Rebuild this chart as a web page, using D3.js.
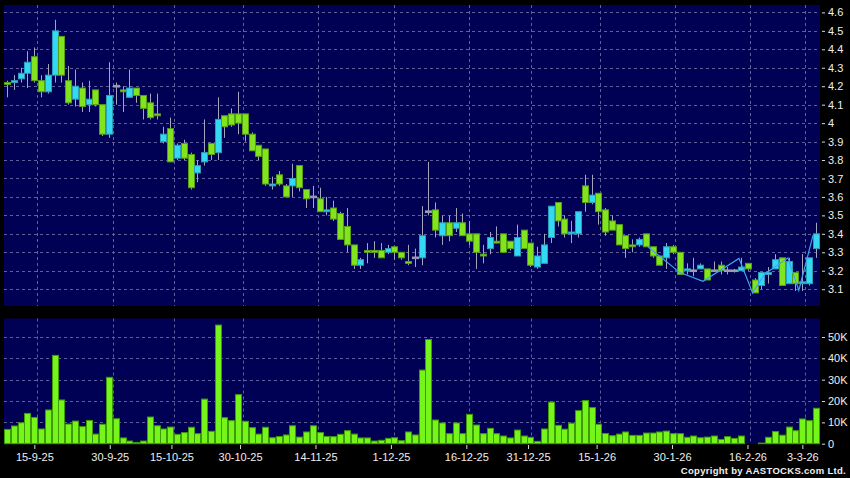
<!doctype html>
<html>
<head>
<meta charset="utf-8">
<script src="https://cdn.jsdelivr.net/npm/d3@7"></script>
<style>
  body { margin: 0; background: #000; }
  svg text { font-family: "Liberation Sans", Arial, sans-serif; }
</style>
</head>
<body>
<svg width="850" height="478"></svg>
<script>
// daily OHLC, oldest first
var opens  = [4.22,4.22,4.24,4.27,4.36,4.23,4.17,4.26,4.47,4.23, 4.13,4.19,4.10,4.18,4.10,3.94,4.20,4.18,4.14,4.19,
              4.15,4.11,4.05,3.90,3.97,3.81,3.89,3.83,3.73,3.79, 3.89,3.84,4.04,4.05,4.05,4.05,3.94,3.88,3.86,3.66,
              3.72,3.66,3.66,3.77,3.64,3.60,3.59,3.52,3.54,3.51, 3.44,3.34,3.23,3.31,3.31,3.31,3.30,3.33,3.30,3.25,
              3.27,3.27,3.52,3.53,3.39,3.46,3.43,3.46,3.40,3.40, 3.29,3.32,3.36,3.40,3.36,3.28,3.42,3.35,3.22,3.24,
              3.38,3.57,3.48,3.40,3.40,3.66,3.57,3.62,3.53,3.47, 3.45,3.39,3.34,3.34,3.40,3.33,3.28,3.27,3.33,3.30,
              3.20,3.20,3.21,3.21,3.20,3.23,3.20,3.20,3.20,3.24, 3.15,3.12,3.18,3.21,3.27,3.13,3.19,3.13,3.13,3.32];
var highs  = [4.23,4.26,4.30,4.39,4.41,4.26,4.32,4.56,4.47,4.31, 4.29,4.22,4.23,4.18,4.10,4.33,4.22,4.20,4.29,4.19,
              4.15,4.16,4.16,3.98,4.03,3.89,3.91,3.84,3.80,4.02, 3.89,4.14,4.04,4.08,4.17,4.05,3.95,3.88,3.86,3.71,
              3.74,3.67,3.78,3.77,3.64,3.66,3.65,3.60,3.58,3.52, 3.54,3.34,3.27,3.35,3.36,3.35,3.34,3.33,3.30,3.34,
              3.32,3.55,3.79,3.57,3.50,3.50,3.54,3.51,3.47,3.40, 3.34,3.41,3.44,3.40,3.36,3.45,3.42,3.35,3.33,3.40,
              3.55,3.57,3.50,3.47,3.52,3.72,3.72,3.62,3.54,3.50, 3.45,3.39,3.37,3.38,3.40,3.33,3.28,3.35,3.34,3.30,
              3.24,3.27,3.24,3.21,3.25,3.25,3.22,3.21,3.27,3.24, 3.16,3.19,3.22,3.29,3.27,3.27,3.19,3.29,3.27,3.46];
var lows   = [4.14,4.18,4.22,4.19,4.22,4.14,4.16,4.22,4.22,4.10, 4.09,4.06,4.06,4.09,3.93,3.92,4.10,4.06,4.14,4.11,
              4.02,4.02,4.02,3.89,3.79,3.80,3.80,3.64,3.68,3.77, 3.80,3.80,3.92,3.98,3.94,3.90,3.85,3.80,3.66,3.64,
              3.66,3.60,3.60,3.63,3.54,3.54,3.52,3.50,3.47,3.37, 3.30,3.21,3.21,3.24,3.27,3.27,3.29,3.26,3.26,3.23,
              3.22,3.23,3.50,3.38,3.34,3.36,3.41,3.39,3.34,3.21, 3.24,3.29,3.35,3.30,3.31,3.28,3.32,3.22,3.21,3.24,
              3.35,3.44,3.38,3.35,3.38,3.52,3.56,3.45,3.39,3.42, 3.34,3.27,3.30,3.33,3.33,3.27,3.23,3.21,3.29,3.18,
              3.18,3.17,3.21,3.15,3.20,3.18,3.18,3.19,3.20,3.20, 3.08,3.10,3.13,3.21,3.12,3.13,3.09,3.09,3.12,3.27];
var closes = [4.21,4.23,4.27,4.33,4.23,4.17,4.26,4.50,4.26,4.11, 4.20,4.09,4.13,4.10,3.94,4.15,4.20,4.17,4.19,4.15,
              4.08,4.03,4.04,3.94,3.79,3.88,3.81,3.65,3.77,3.84, 3.83,4.02,3.98,3.99,4.00,3.94,3.85,3.82,3.67,3.67,
              3.67,3.60,3.70,3.65,3.59,3.60,3.52,3.53,3.48,3.37, 3.34,3.23,3.26,3.30,3.30,3.27,3.32,3.30,3.27,3.24,
              3.27,3.39,3.52,3.42,3.46,3.39,3.46,3.39,3.36,3.30, 3.28,3.38,3.35,3.30,3.32,3.38,3.32,3.23,3.28,3.34,
              3.55,3.47,3.40,3.41,3.52,3.57,3.61,3.52,3.41,3.42, 3.34,3.32,3.33,3.37,3.33,3.28,3.23,3.33,3.30,3.18,
              3.21,3.20,3.23,3.15,3.20,3.20,3.20,3.20,3.22,3.21, 3.08,3.19,3.19,3.26,3.12,3.25,3.13,3.14,3.27,3.40];
// volume in thousands of shares
var volumes = [6.7,8.3,9.8,14.2,12.3,6.9,15.8,41.4,20.5,9.2, 10.6,8.0,10.9,4.5,9.1,31.1,11.7,2.7,1.25,0.6,
               1.25,12.5,8.4,6.9,7.8,4.4,5.2,7.7,4.7,20.9, 5.8,55.6,12.2,10.8,23.0,10.5,7.5,4.5,7.7,2.8,
               3.4,4.1,8.4,3.1,5.5,8.4,5.2,3.4,3.3,4.4, 6.1,4.5,2.7,2.7,1.25,1.6,2.5,2.8,1.4,5.5,
               4.1,34.5,48.8,11.1,9.7,4.7,9.7,4.7,13.75,8.75, 4.7,7.2,4.7,3.6,2.7,6.4,3.6,3.0,1.1,6.9,
               19.5,8.6,6.8,9.6,15.5,20.2,16.9,9.1,4.8,3.75, 4.5,5.5,3.9,3.9,5.0,5.0,5.5,5.9,4.7,4.7,
               3.0,3.6,2.8,3.1,3.6,2.0,3.3,2.5,3.6,0, 0,0.3,3.0,5.7,4.0,7.8,6.1,11.6,10.8,16.6];
var priceTicks = [3.1,3.2,3.3,3.4,3.5,3.6,3.7,3.8,3.9,4.0,4.1,4.2,4.3,4.4,4.5,4.6];
var volTicks = [0,10,20,30,40,50];
var tickIdx = [4,15,24,34,45,56,67,76,86,97,108,116];
var tickLabels = ["15-9-25","30-9-25","15-10-25","30-10-25","14-11-25","1-12-25",
                  "16-12-25","31-12-25","15-1-26","30-1-26","16-2-26","3-3-26"];
// thin overlay line in the last weeks
var lineIdx   = [94.3,99.0,102.4,107.7,109.7,111.5,114.9,116.5,118.6];
var linePrice = [3.33,3.19,3.143,3.267,3.08,3.183,3.27,3.093,3.393];

var svg = d3.select("svg");
var L = 4, R = 820, top1 = 5, bot1 = 306, top2 = 318.5, bot2 = 444;
var n = closes.length;
var navy = "#000055", gridC = "#5f5f99";

var x  = d3.scaleLinear().domain([0, n - 1]).range([7, 815.8]);
var xt = d3.scaleLinear().domain([0, n - 1]).range([6.9, 822.9]);   // date ticks
var y  = d3.scaleLinear().domain([3.1, 4.6]).range([289.2, 12.4]);
var yv = d3.scaleLinear().domain([0, 50]).range([443.7, 337]);

svg.append("rect").attr("x", L).attr("y", top1).attr("width", R - L).attr("height", bot1 - top1).attr("fill", navy);
svg.append("rect").attr("x", L).attr("y", top2).attr("width", R - L).attr("height", bot2 - top2).attr("fill", navy);

var grid = svg.append("g").attr("stroke", gridC).attr("stroke-dasharray", "3,3").attr("stroke-width", 1);
grid.selectAll(".hp").data(priceTicks).enter().append("line")
    .attr("x1", L).attr("x2", R)
    .attr("y1", function(d) { return Math.round(y(d)) + 0.5; })
    .attr("y2", function(d) { return Math.round(y(d)) + 0.5; });
grid.selectAll(".hv").data(volTicks.slice(1)).enter().append("line")
    .attr("x1", L).attr("x2", R)
    .attr("y1", function(d) { return Math.round(yv(d)) + 0.5; })
    .attr("y2", function(d) { return Math.round(yv(d)) + 0.5; });
tickIdx.forEach(function(d) {
    var gx = Math.round(xt(d) + 3) + 0.5;
    grid.append("line").attr("x1", gx).attr("x2", gx).attr("y1", top1).attr("y2", bot1);
    grid.append("line").attr("x1", gx).attr("x2", gx).attr("y1", top2).attr("y2", bot2);
});

var idx = d3.range(n);

// wicks
svg.append("g").selectAll("line").data(idx).enter().append("line")
    .attr("x1", function(i) { return Math.round(x(i)) + 0.5; })
    .attr("x2", function(i) { return Math.round(x(i)) + 0.5; })
    .attr("y1", function(i) { return y(highs[i]); })
    .attr("y2", function(i) { return y(lows[i]); })
    .attr("stroke", "#a4a4bc").attr("stroke-width", 1);

// bodies
svg.append("g").selectAll("rect").data(idx).enter().append("rect")
    .attr("x", function(i) { return Math.round(x(i)) - 2.5; })
    .attr("width", 6)
    .attr("y", function(i) {
        var t = y(Math.max(opens[i], closes[i])), b = y(Math.min(opens[i], closes[i]));
        return b - t < 1.5 ? (t + b) / 2 - 0.8 : t;
    })
    .attr("height", function(i) {
        var h = Math.abs(y(opens[i]) - y(closes[i]));
        return h < 1.5 ? 1.6 : h;
    })
    .attr("fill", function(i) {
        if (opens[i] === closes[i]) return "#9c9cb0";
        return closes[i] > opens[i] ? "#35d8f2" : "#82e41e";
    })
    .attr("stroke", function(i) {
        if (opens[i] === closes[i]) return "#9c9cb0";
        return closes[i] > opens[i] ? "#2a9fb8" : "#55a012";
    })
    .attr("stroke-width", 1);

// overlay line
var pts = lineIdx.map(function(d, i) { return [d, linePrice[i]]; });
svg.append("path")
    .attr("d", d3.line().x(function(d) { return x(d[0]); }).y(function(d) { return y(d[1]); })(pts))
    .attr("fill", "none").attr("stroke", "#3fa4f0").attr("stroke-width", 1.2);

// volume
svg.append("g").selectAll("rect").data(idx).enter().append("rect")
    .attr("x", function(i) { return Math.round(x(i)) - 2.5; })
    .attr("width", 6)
    .attr("y", function(i) { return yv(volumes[i]); })
    .attr("height", function(i) { return yv(0) - yv(volumes[i]); })
    .attr("fill", "#76f51a").attr("stroke", "#3e9a06").attr("stroke-width", 1);

// axes
function styleAxis(g) {
    g.select(".domain").remove();
    g.selectAll("line").attr("stroke", "#d8d8d8");
    g.selectAll("text").attr("fill", "#eeeeee").attr("font-size", "11px")
        .attr("font-family", "'Liberation Sans', Arial, sans-serif");
}
svg.append("g").attr("transform", "translate(822,0)")
    .call(d3.axisRight(y).tickValues(priceTicks).tickSize(3).tickPadding(3)
        .tickFormat(function(d) { return String(+d.toFixed(1)); }))
    .call(styleAxis);
svg.append("g").attr("transform", "translate(822,0)")
    .call(d3.axisRight(yv).tickValues(volTicks).tickSize(3).tickPadding(3)
        .tickFormat(function(d) { return d ? d + "K" : "0"; }))
    .call(styleAxis);
svg.append("g").attr("transform", "translate(0," + (bot2 + 1) + ")")
    .call(d3.axisBottom(xt).tickValues(tickIdx).tickSize(4).tickPadding(4)
        .tickFormat(function(d, i) { return tickLabels[i]; }))
    .call(styleAxis);

svg.append("text")
    .attr("x", 846).attr("y", 474)
    .attr("text-anchor", "end")
    .attr("fill", "#f0f0f0")
    .attr("font-size", "9.5px")
    .attr("font-weight", "bold")
    .attr("letter-spacing", "0.3px")
    .text("Copyright by AASTOCKS.com Ltd.");
</script>
</body>
</html>
